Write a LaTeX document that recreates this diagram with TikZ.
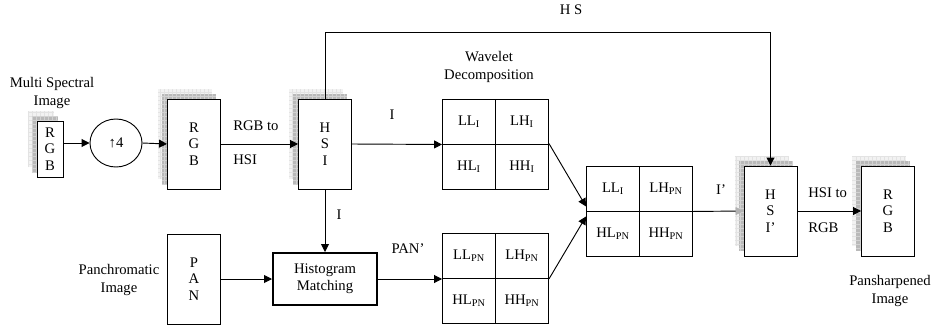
\documentclass[tikz,border=0pt]{standalone}
\usepackage{fontspec}
\setmainfont{Liberation Serif}
\usepackage{tikz}
\usetikzlibrary{arrows.meta,shapes,backgrounds,calc,positioning}
\tikzstyle{box}=[rectangle, draw=black, fill=white, line width=0.7pt, minimum width=39.75pt, minimum height=67.5pt, inner sep=0pt, align=center, font=\fontsize{11}{12.5}\selectfont]
\tikzstyle{cell}=[rectangle, draw=black, fill=white, line width=0.7pt, minimum width=39.75pt, minimum height=33.75pt, inner sep=0pt, font=\fontsize{11}{12.5}\selectfont]
\tikzstyle{lab}=[align=center, inner sep=0pt, font=\fontsize{11}{13}\selectfont]
\tikzstyle{flow}=[line width=0.7pt, -{Triangle[length=6pt,width=6pt]}]
\newcommand{\stackShadow}[1]{
  \begin{pgfonlayer}{background}
    \fill[gray!10] ([shift={(-9,-10)}]#1.north west) rectangle ([shift={(-9,-10)}]#1.south east);
    \draw[gray!22, line width=0.3pt, step=3pt] ([shift={(-9,-10)}]#1.north west) grid ([shift={(-9,-10)}]#1.south east);
    \fill[gray!55] ([shift={(-5,-5)}]#1.north west) rectangle ([shift={(-5,-5)}]#1.south east);
    \draw[gray!35, line width=0.3pt, step=3pt] ([shift={(-5,-5)}]#1.north west) grid ([shift={(-5,-5)}]#1.south east);
  \end{pgfonlayer}
}

\begin{document}
\begin{tikzpicture}[x=0.75pt, y=-0.75pt]
          \useasboundingbox (0,0) rectangle (932,329);
          % upper row
          \node at (50,149) [box, minimum width=19.5pt, minimum height=42pt] (rgbin) {R\\G\\B};
          \node at (52,93) [lab] (mslab) {Multi Spectral\\Image};
          \node at (116,143) [ellipse, draw=black, line width=0.7pt, minimum width=39pt, minimum height=36pt, inner sep=0pt, font=\fontsize{11}{13}\selectfont] (up4) {↑4};
          \node at (194,144) [box] (rgbbig) {R\\G\\B};
          \node at (325,144) [box] (hsi) {H\\S\\I};
          \node at (233,126) [lab, anchor=west] (rgbto) {RGB to};
          \node at (233,160) [lab, anchor=west] (tohsi) {HSI};
          \node at (392,115) [lab] (ilab) {I};
          \node at (489,67) [lab] (wavlab) {Wavelet\\Decomposition};
          \node at (469,121.5) [cell] (ll1) {LL\textsubscript{I}};
          \node at (522,121.5) [cell] (lh1) {LH\textsubscript{I}};
          \node at (469,166.5) [cell] (hl1) {HL\textsubscript{I}};
          \node at (522,166.5) [cell] (hh1) {HH\textsubscript{I}};
          % lower row
          \node at (194,279) [box] (pan) {P\\A\\N};
          \node at (119,280) [lab] (panlab) {Panchromatic\\Image};
          \node at (325,279) [box, line width=1.5pt, minimum width=78pt, minimum height=39pt] (hist) {Histogram\\Matching};
          \node at (339,215) [lab] (ilab2) {I};
          \node at (408,249) [lab] (panplab) {PAN’};
          \node at (469,256) [cell] (ll2) {LL\textsubscript{PN}};
          \node at (522,256) [cell] (lh2) {LH\textsubscript{PN}};
          \node at (469,301) [cell] (hl2) {HL\textsubscript{PN}};
          \node at (522,301) [cell] (hh2) {HH\textsubscript{PN}};
          % fused coefficients and output
          \node at (613,188.5) [cell] (ll3) {LL\textsubscript{I}};
          \node at (666,188.5) [cell] (lh3) {LH\textsubscript{PN}};
          \node at (613,233.5) [cell] (hl3) {HL\textsubscript{PN}};
          \node at (666,233.5) [cell] (hh3) {HH\textsubscript{PN}};
          \node at (770.5,211) [box] (hsi2) {H\\S\\I’};
          \node at (888,211) [box] (rgbout) {R\\G\\B};
          \node at (721,190) [lab] (iplab) {I’};
          \node at (808,193) [lab, anchor=west] (hsito) {HSI to};
          \node at (808,228) [lab, anchor=west] (torgb) {RGB};
          \node at (890,291) [lab] (pslab) {Pansharpened\\Image};
          \node at (571,10) [lab] (hslab) {H S};
          \coordinate (hstop) at (325,32);
          % 
          \draw[flow] (rgbin.east |- up4) -- (up4.west);
          \draw[flow] (up4.east) -- (rgbbig.west);
          \draw[flow] (rgbbig.east) -- (hsi.west);
          \draw[flow] (hsi.east) -- (ll1.south west);
          \draw[flow] (hsi.south) -- (hist.north);
          \draw[flow] (pan.east) -- (hist.west);
          \draw[flow] (hist.east) -- (hist.east -| ll2.west);
          \draw[flow] (hh1.north east) -- ($(ll3.south west)+(0,-5)$);
          \draw[flow] (lh2.south east) -- ($(ll3.south west)+(0,5)$);
          \draw[line width=0.7pt, -{Triangle[length=6pt,width=6pt,color=gray!60]}] (lh3.south east) -- (hsi2.west);
          \draw[flow] (hsi2.east) -- (rgbout.west);
          \draw[flow] (hsi.north) -- (hstop) -| (hsi2.north);
          % 
          \stackShadow{rgbin}
          \stackShadow{rgbbig}
          \stackShadow{hsi}
          \stackShadow{hsi2}
          \stackShadow{rgbout}
        \end{tikzpicture}
\end{document}
